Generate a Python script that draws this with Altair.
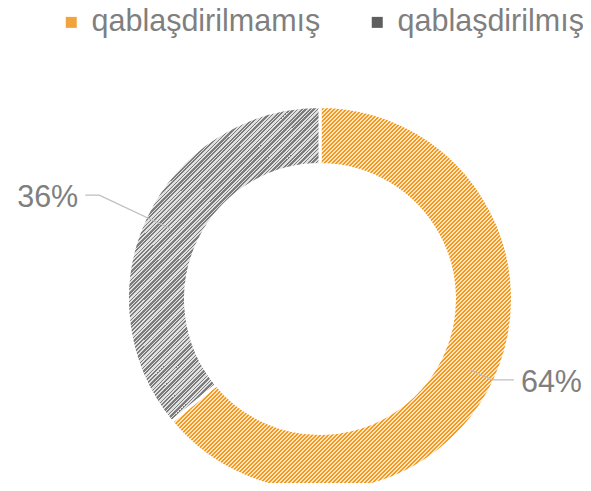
import math
import altair as alt
import pandas as pd

# ---- data ----
categories = ["qablaşdirilmamış", "qablaşdirilmış"]
values = [64, 36]
labels = ["64%", "36%"]

# ---- styles ----
dark_cols = ["#F29A1E", "#7C7C7C"]
light_cols = ["#FDE3BF", "#E0E0E0"]
legend_cols = ["#F2A43C", "#5E5E5E"]
text_col = "#7F7F7F"
line_col = "#BFBFBF"
font = "Liberation Sans"
fsize = 30.5

W, H = 575, 475
CX, CY = 312, 291          # ring centre inside the plot area
R_OUT, R_IN = 192.5, 134.5
R_MID = 165
elbow_r = [190, 244]       # leader-line elbow radius per slice
leg_len = [22, 14]         # horizontal leg length per slice
PERIOD = 2 * math.sqrt(2)  # stripe period (px, perpendicular) -> 4px per row
DARK_FRAC = 0.5

total = sum(values)
starts, ends = [], []
acc = 0.0
for v in values:
    starts.append(acc / total * 2 * math.pi)
    acc += v
    ends.append(acc / total * 2 * math.pi)


def stripe_gradient(a0, a1, dark, light):
    pts = []
    n = 2000
    for i in range(n + 1):
        a = a0 + (a1 - a0) * i / n
        for r in (R_OUT, R_IN):
            pts.append((r * math.sin(a), -r * math.cos(a)))
    xs = [p[0] for p in pts]
    ys = [p[1] for p in pts]
    w = max(xs) - min(xs)
    h = max(ys) - min(ys)
    c = (w + h) / (w * w + h * h)
    nstr = (w + h) / (math.sqrt(2) * PERIOD)
    stops = []
    k = 0
    while k / nstr < 1:
        o0 = k / nstr
        o1 = min((k + DARK_FRAC) / nstr, 1.0)
        o2 = min((k + 1) / nstr, 1.0)
        stops += [
            {"offset": round(o0, 6), "color": dark},
            {"offset": round(o1, 6), "color": dark},
            {"offset": round(o1, 6), "color": light},
            {"offset": round(o2, 6), "color": light},
        ]
        k += 1
    return {"gradient": "linear", "x1": 0, "y1": 0,
            "x2": round(c * w, 6), "y2": round(c * h, 6), "stops": stops}


grads = [stripe_gradient(starts[i], ends[i], dark_cols[i], light_cols[i])
         for i in range(len(values))]

df = pd.DataFrame({"cat": categories, "value": values,
                   "idx": list(range(len(values)))})

xs = alt.Scale(domain=[-CX, W - CX], nice=False, zero=False)
ys = alt.Scale(domain=[-(H - CY), CY], nice=False, zero=False)

# leader lines and label positions derived from the slice mid angles
line_rows, lab_rows = [], []
for i, (s, e) in enumerate(zip(starts, ends)):
    m = (s + e) / 2
    dx, dy = math.sin(m), math.cos(m)
    p0 = (R_MID * dx, R_MID * dy)
    p1 = (elbow_r[i] * dx, elbow_r[i] * dy)
    sgn = 1 if dx >= 0 else -1
    p2 = (p1[0] + sgn * leg_len[i], p1[1])
    for j, p in enumerate([p0, p1, p2]):
        line_rows.append({"slice": i, "o": j, "x": p[0], "y": p[1]})
    lab_rows.append({"slice": i, "x": p2[0] + sgn * 7, "y": p2[1],
                     "label": labels[i], "side": "left" if sgn > 0 else "right"})
ldf = pd.DataFrame(line_rows)
tdf = pd.DataFrame(lab_rows)

centre = dict(x=alt.X(datum=0, type="quantitative", scale=xs, axis=None),
              y=alt.Y(datum=0, type="quantitative", scale=ys, axis=None))

base = alt.Chart(df).mark_arc(outerRadius=R_OUT, innerRadius=R_IN,
                              stroke="white", strokeWidth=3).encode(
    theta=alt.Theta("value:Q", stack=True),
    order=alt.Order("idx:Q"),
    color=alt.Color("cat:N", sort=categories,
                    scale=alt.Scale(domain=categories, range=legend_cols),
                    legend=alt.Legend(orient="none", legendX=48, legendY=-1,
                                      direction="horizontal", title=None,
                                      symbolType="square", symbolSize=121,
                                      symbolStrokeWidth=0,
                                      labelFontSize=fsize, labelFont=font,
                                      labelColor=text_col, labelOffset=5,
                                      columnPadding=41, padding=0,
                                      labelLimit=500)),
    **centre,
)

hatch = alt.Chart(df).mark_arc(outerRadius=R_OUT, innerRadius=R_IN,
                               stroke="white", strokeWidth=3).encode(
    theta=alt.Theta("value:Q", stack=True),
    order=alt.Order("idx:Q"),
    fill=alt.condition(alt.datum.idx == 0, alt.value(grads[0]), alt.value(grads[1])),
    **centre,
)

lines = alt.Chart(ldf).mark_line(color=line_col, strokeWidth=1.3).encode(
    x=alt.X("x:Q", scale=xs, axis=None),
    y=alt.Y("y:Q", scale=ys, axis=None),
    detail="slice:N",
    order="o:Q",
)

texts = []
for side in ["left", "right"]:
    texts.append(
        alt.Chart(tdf).transform_filter(alt.datum.side == side)
        .mark_text(align=side, baseline="alphabetic", dy=12, fontSize=fsize,
                   font=font, color=text_col)
        .encode(x=alt.X("x:Q", scale=xs, axis=None),
                y=alt.Y("y:Q", scale=ys, axis=None),
                text="label:N")
    )

chart = alt.layer(base, hatch, lines, *texts).properties(
    width=W, height=H, autosize="none", padding=0
).configure_view(stroke=None)

chart.save("out.html", embed_options={"renderer": "svg", "actions": False})
